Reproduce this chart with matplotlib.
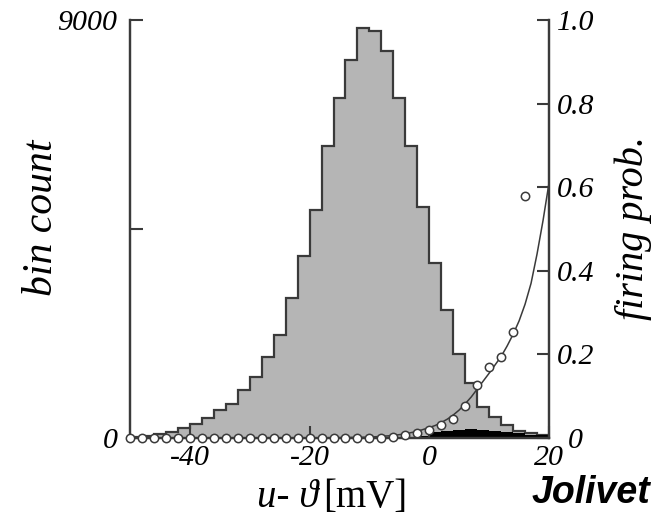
import matplotlib
matplotlib.use("Agg")
import matplotlib.pyplot as plt
import numpy as np

# ---- data ----
bin_edges = list(range(-50, 21, 2))
bin_counts = [15, 40, 80, 125, 220, 300, 424, 603, 740, 1033, 1321, 1751, 2218,
              3007, 3919, 4909, 6287, 7314, 8139, 8821, 8763, 8333, 7314, 6287,
              4963, 3775, 2756, 1809, 1177, 675, 455, 285, 160, 100, 70]
spike_edges = list(range(-4, 21, 2))
spike_counts = [15, 50, 120, 160, 180, 190, 180, 160, 130, 100, 75, 55]

prob_x = list(range(-50, 17, 2))
prob_y = [0.0] * 22 + [0.003, 0.007, 0.011, 0.018, 0.030, 0.046, 0.077,
                       0.127, 0.171, 0.194, 0.254, 0.580]

fit_x = [-50, -20, -14, -10, -8, -6, -4, -2, 0, 1, 2, 3, 4, 5, 6, 7, 8, 9, 10,
         11, 12, 13, 14, 15, 16, 17, 18, 19, 20]
fit_y = [0.0, 0.0, 0.001, 0.002, 0.004, 0.006, 0.010, 0.016, 0.025, 0.030,
         0.037, 0.045, 0.055, 0.067, 0.082, 0.098, 0.117, 0.136, 0.155, 0.175,
         0.195, 0.220, 0.248, 0.280, 0.320, 0.370, 0.440, 0.520, 0.610]

left_ticks = [0, 4500, 9000]
left_labels = ["0", "", "9000"]
right_ticks = [0, 0.2, 0.4, 0.6, 0.8, 1.0]
right_labels = ["0", "0.2", "0.4", "0.6", "0.8", "1.0"]
x_ticks = [-40, -20, 0, 20]
x_labels = ["-40", "-20", "0", "20"]

# ---- style ----
serif = ["Liberation Serif", "DejaVu Serif"]
dark = "#3a3a3a"
gray = "#b5b5b5"

fig = plt.figure(figsize=(6.56, 5.19), dpi=100)
ax = fig.add_axes([130 / 656, 1 - 438 / 519, (549 - 130) / 656, (438 - 20) / 519])
ax2 = ax.twinx()

ax.stairs(bin_counts, bin_edges, fill=True, facecolor=gray, edgecolor="none")
ax.stairs(bin_counts, bin_edges, fill=False, color=dark, linewidth=1.6)
ax.stairs(spike_counts, spike_edges, fill=True, facecolor="black", edgecolor="none")

ax2.plot(fit_x, fit_y, color=dark, linewidth=1.1, zorder=3)
ax2.plot(prob_x, prob_y, linestyle="none", marker="o", markersize=6.0,
         markerfacecolor="white", markeredgecolor=dark, markeredgewidth=1.1,
         zorder=4, clip_on=False)

ax.set_xlim(-50, 20)
ax.set_ylim(0, 9000)
ax2.set_ylim(0, 1.0)

for a in (ax, ax2):
    a.spines["top"].set_visible(False)
    for s in ("left", "right", "bottom"):
        a.spines[s].set_color(dark)
        a.spines[s].set_linewidth(1.6)

tfs = 21.5
ax.set_xticks(x_ticks)
ax.set_xticklabels(x_labels, fontsize=tfs, fontstyle="italic", family=serif)
ax.set_yticks(left_ticks)
ax.set_yticklabels(left_labels, fontsize=tfs, fontstyle="italic", family=serif)
ax2.set_yticks(right_ticks)
ax2.set_yticklabels(right_labels, fontsize=tfs, fontstyle="italic", family=serif,
                    ha="center")

ax.tick_params(axis="x", direction="in", length=9, width=1.5, color=dark, pad=5)
ax.tick_params(axis="y", direction="in", length=9, width=1.5, color=dark, pad=9)
ax2.tick_params(axis="y", direction="in", length=9, width=1.5, color=dark, pad=19)

fig.text(42 / 656, 1 - 218 / 519, "bin count", rotation=90, fontsize=30,
         fontstyle="italic", family=serif, ha="center", va="center")
fig.text(633 / 656, 1 - 228 / 519, "firing prob.", rotation=90, fontsize=29,
         fontstyle="italic", family=serif, ha="center", va="center")

# x label: italic "u- ϑ" followed by upright "[mV]"
fig.text(318 / 656, 1 - 507 / 519, "u- \u03d1", fontsize=28, fontstyle="italic",
         family=serif, ha="right", va="baseline")
fig.text(323 / 656, 1 - 507 / 519, "[mV]", fontsize=28,
         family=serif, ha="left", va="baseline")

fig.text(591 / 656, 1 - 493 / 519, "Jolivet", fontsize=27, fontweight="bold",
         fontstyle="italic", family=["Liberation Sans", "DejaVu Sans"],
         ha="center", va="center")

fig.savefig("out.png", dpi=100)
